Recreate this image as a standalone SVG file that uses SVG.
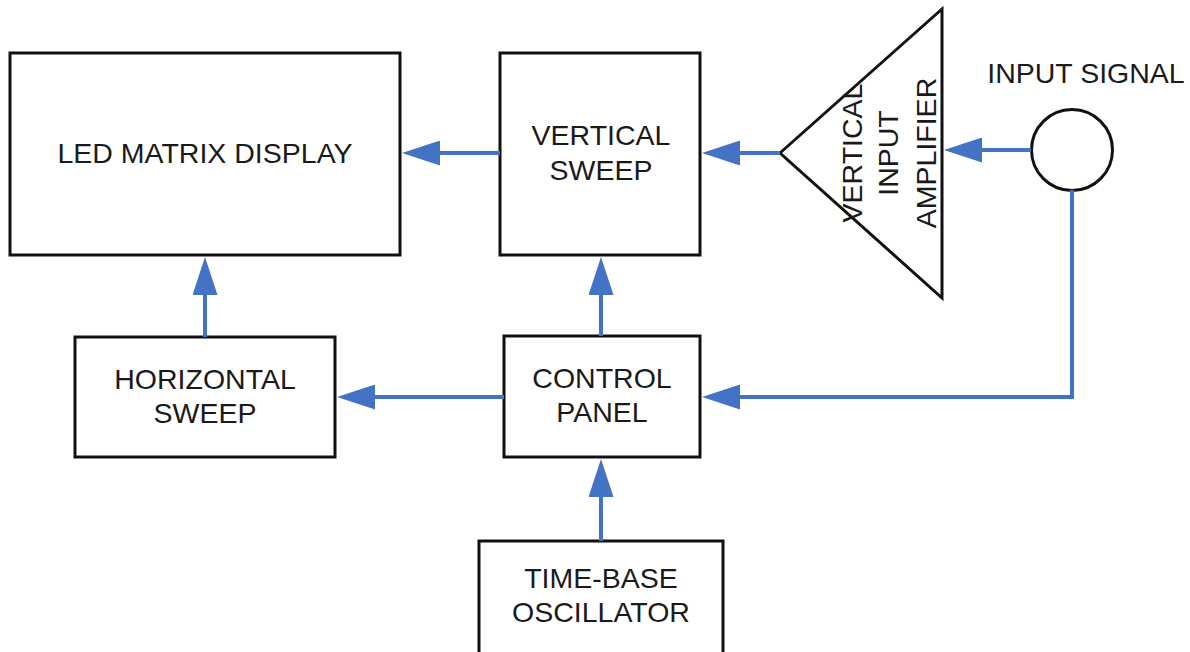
<svg xmlns="http://www.w3.org/2000/svg" width="1190" height="652" viewBox="0 0 1190 652">
  <style>
    .box { fill: #ffffff; stroke: #111111; stroke-width: 3; }
    .lbl { font-family: "Liberation Sans", Arial, sans-serif; font-size: 28.5px; fill: #1a1a1a; text-anchor: middle; }
    .wire { fill: none; stroke: #4472c4; stroke-width: 4; marker-end: url(#head); }
  </style>
  <defs>
    <marker id="head" markerUnits="userSpaceOnUse" markerWidth="38" markerHeight="25" refX="8" refY="12.5" orient="auto">
      <path d="M0,0 L38,12.5 L0,25 Z" fill="#4472c4"/>
    </marker>
  </defs>

  <rect width="1190" height="652" fill="#ffffff"/>

  <g id="led-matrix-display">
    <rect class="box" x="10" y="53" width="390" height="202"/>
    <text class="lbl" x="205" y="163">LED MATRIX DISPLAY</text>
  </g>

  <g id="vertical-sweep">
    <rect class="box" x="500" y="53" width="200" height="202"/>
    <text class="lbl" x="601" y="145">VERTICAL</text>
    <text class="lbl" x="601" y="180">SWEEP</text>
  </g>

  <g id="vertical-input-amplifier">
    <polygon class="box" points="780,153 942,9 942,298"/>
    <text class="lbl" x="862" y="153" transform="rotate(-90 862 153)">VERTICAL</text>
    <text class="lbl" x="898" y="153" transform="rotate(-90 898 153)">INPUT</text>
    <text class="lbl" x="936" y="153" transform="rotate(-90 936 153)">AMPLIFIER</text>
  </g>

  <g id="input-signal">
    <circle class="box" cx="1072" cy="150" r="40.5"/>
    <text class="lbl" x="1086" y="83">INPUT SIGNAL</text>
  </g>

  <g id="horizontal-sweep">
    <rect class="box" x="75" y="337" width="260" height="120"/>
    <text class="lbl" x="205" y="389">HORIZONTAL</text>
    <text class="lbl" x="205" y="423">SWEEP</text>
  </g>

  <g id="control-panel">
    <rect class="box" x="504" y="336" width="196" height="121"/>
    <text class="lbl" x="602" y="388">CONTROL</text>
    <text class="lbl" x="602" y="422">PANEL</text>
  </g>

  <g id="time-base-oscillator">
    <rect class="box" x="479" y="541" width="244" height="120"/>
    <text class="lbl" x="601" y="588">TIME-BASE</text>
    <text class="lbl" x="601" y="622">OSCILLATOR</text>
  </g>

  <g id="connectors">
    <path class="wire" d="M500,153 L432,153"/>
    <path class="wire" d="M780,153 L732,153"/>
    <path class="wire" d="M1031,150 L974,150"/>
    <path class="wire" d="M205,337 L205,287"/>
    <path class="wire" d="M601,336 L601,287"/>
    <path class="wire" d="M504,397 L367,397"/>
    <path class="wire" d="M1072,190 L1072,397 L732,397"/>
    <path class="wire" d="M601,541 L601,489"/>
  </g>
</svg>
